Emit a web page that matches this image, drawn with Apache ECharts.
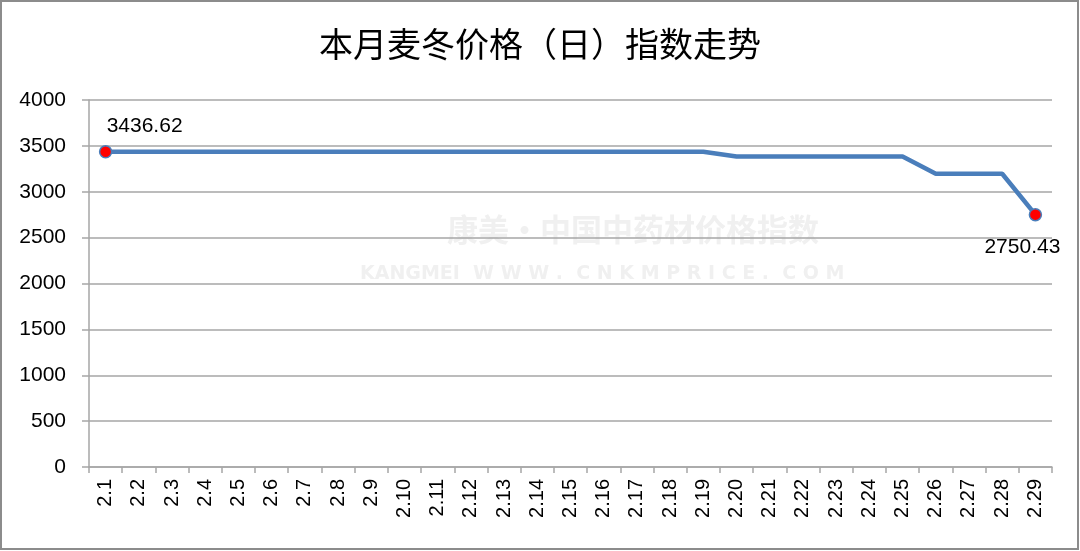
<!DOCTYPE html>
<html><head><meta charset="utf-8">
<script src="https://cdn.jsdelivr.net/npm/echarts@6/dist/echarts.min.js"></script>
<style>html,body{margin:0;padding:0;background:#fff;}#c{width:1080px;height:551px;}</style>
</head><body><div id="c"></div>
<script>
const titleText = '本月麦冬价格（日）指数走势';
const categories = ['2.1','2.2','2.3','2.4','2.5','2.6','2.7','2.8','2.9','2.10','2.11','2.12','2.13','2.14','2.15','2.16','2.17','2.18','2.19','2.20','2.21','2.22','2.23','2.24','2.25','2.26','2.27','2.28','2.29'];
const values = [3436.62,3436.62,3436.62,3436.62,3436.62,3436.62,3436.62,3436.62,3436.62,3436.62,3436.62,3436.62,3436.62,3436.62,3436.62,3436.62,3436.62,3436.62,3436.62,3385,3385,3385,3385,3385,3385,3196,3196,3196,2750.43];
const yTicks = {min:0, max:4000, interval:500};

const chart = echarts.init(document.getElementById('c'), null, {renderer:'canvas'});
const last = values.length - 1;
const seriesData = values.map((v,i)=>{
  if (i===0) return {value:v, symbol:'circle', symbolSize:12, label:{show:true, position:'top', offset:[39,-3], formatter:'3436.62'}};
  if (i===last) return {value:v, symbol:'circle', symbolSize:12, label:{show:true, position:'bottom', offset:[-13,10], formatter:'2750.43'}};
  return {value:v, symbol:'none'};
});
chart.setOption({
  animation:false,
  backgroundColor:'#fff',
  title:{text:titleText, left:'center', top:22, textStyle:{fontFamily:'Noto Sans CJK SC', fontSize:34, fontWeight:'normal', color:'#000'}},
  graphic:[
    {type:'rect', shape:{x:1,y:1,width:1077,height:548}, style:{fill:'none', stroke:'#8c8c8c', lineWidth:2}, z:100},
    {type:'text', left:447, top:214, style:{text:'康美·中国中药材价格指数', fill:'#f0f0f0', font:'bold 31px "Noto Sans CJK SC"'}, z:0},
    {type:'text', left:360, top:265, style:{text:'KANGMEI  W W W .  C N K M P R I C E .  C O M', fill:'#f0f0f0', font:'bold 19px "DejaVu Sans"'}, z:0}
  ],
  grid:{left:89, right:28, top:100, bottom:84, containLabel:false},
  xAxis:{type:'category', data:categories, boundaryGap:true,
    axisLine:{lineStyle:{color:'#a6a6a6', width:1.5}},
    axisTick:{show:true, length:6, lineStyle:{color:'#a6a6a6', width:1.5}},
    splitLine:{show:false},
    axisLabel:{rotate:90, fontSize:20, color:'#000', fontFamily:'Liberation Sans', margin:12, interval:0}},
  yAxis:{type:'value', min:yTicks.min, max:yTicks.max, interval:yTicks.interval,
    axisLine:{show:true, lineStyle:{color:'#a6a6a6', width:1.5}},
    axisTick:{show:true, length:7, lineStyle:{color:'#a6a6a6', width:1.5}},
    splitLine:{show:true, lineStyle:{color:'#a6a6a6', width:1.5}},
    axisLabel:{fontSize:21, color:'#000', fontFamily:'Liberation Sans', margin:23, formatter:v=>String(v)}},
  series:[{type:'line', data:seriesData, z:5,
    lineStyle:{color:'#4a7ebb', width:4.5},
    itemStyle:{color:'#ff0000', borderColor:'#4a7ebb', borderWidth:1.5},
    label:{color:'#000', fontSize:21, fontFamily:'Liberation Sans'}}]
});
</script></body></html>
